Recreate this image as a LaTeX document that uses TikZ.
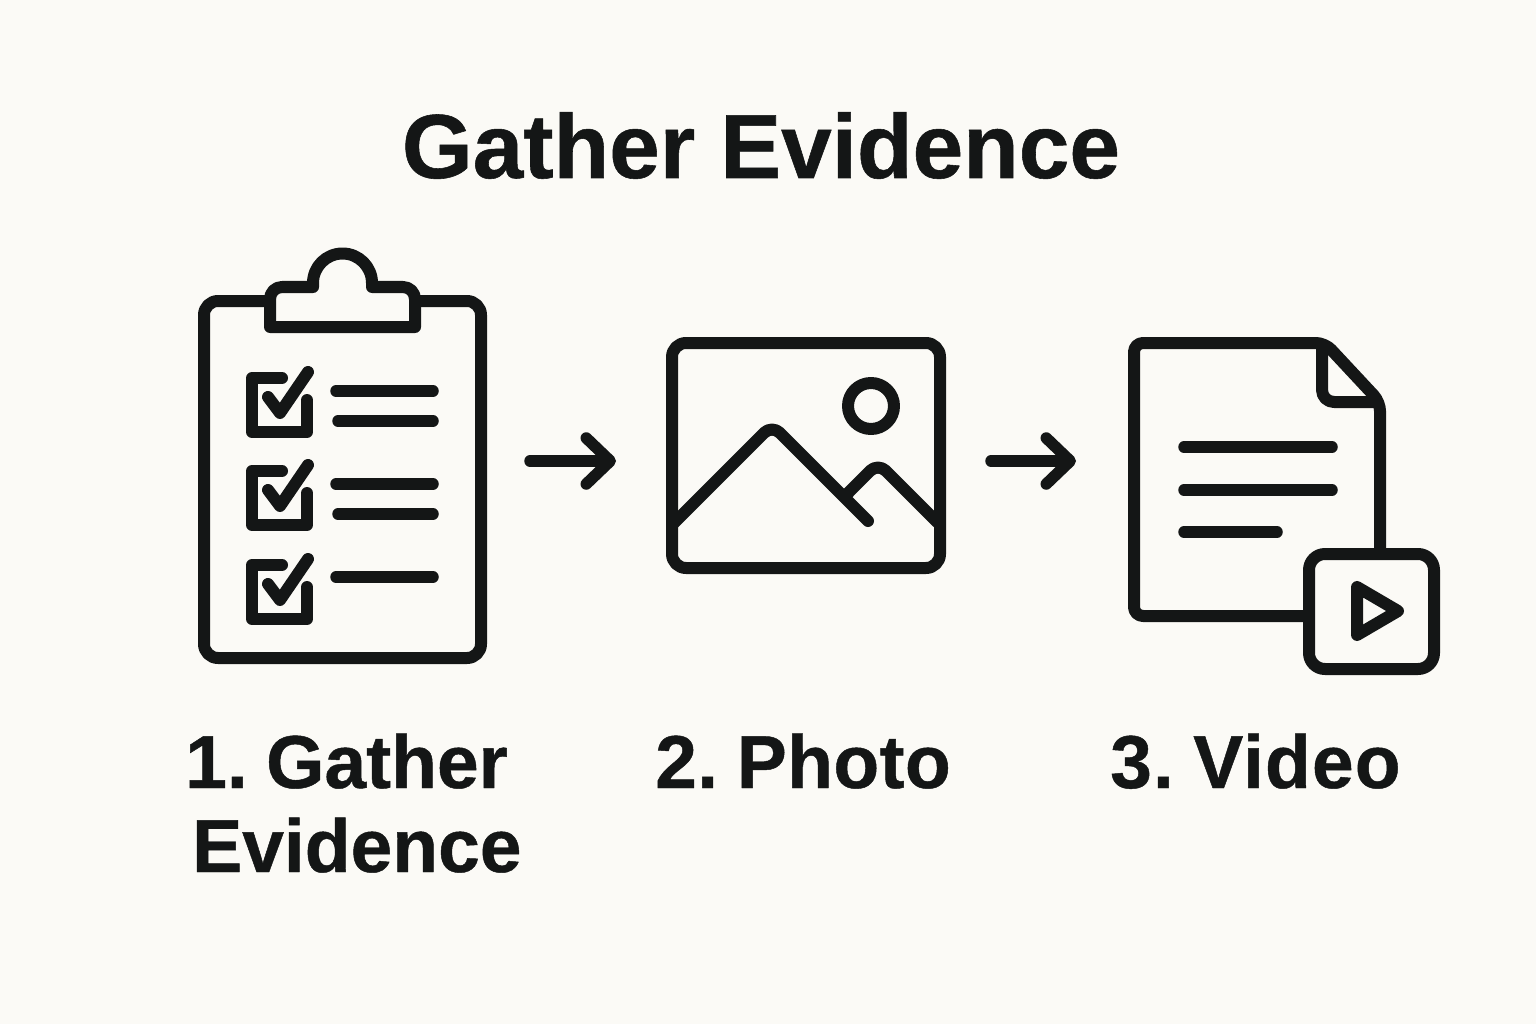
\documentclass[tikz,border=0pt]{standalone}
\usepackage{fontspec}
\setmainfont{Liberation Sans}[BoldFeatures={FakeBold=0.6}]
\newfontfamily\stepfont{Liberation Sans}[BoldFeatures={FakeBold=0.6},WordSpace=0.55]
\usetikzlibrary{arrows.meta,positioning}
\definecolor{paper}{HTML}{FBFAF6}
\definecolor{ink}{HTML}{141616}
\begin{document}
\begin{tikzpicture}[x=1pt,y=-1pt,
        iconline/.style={draw=ink, line width=12pt, line cap=round, line join=round},
        iconbox/.style={iconline, rectangle, fill=paper, inner sep=0pt, rounded corners=14pt},
        rowline/.style={draw=ink, line width=11.5pt, line cap=round},
        flowarrow/.style={draw=ink, line width=11.5pt, line cap=round, -{Straight Barb[round,length=24pt,width=46pt]}},
        titletext/.style={font=\fontsize{91}{91}\bfseries, text=ink, inner sep=0pt, anchor=base},
        steptext/.style={font=\fontsize{75}{75}\stepfont\bfseries, text=ink, inner sep=0pt, anchor=base west}]
            \path[fill=paper] (0,0) rectangle (1536,1024);
            \node[titletext] (title) at (761,178) {Gather Evidence};

            \node[iconbox, minimum width=277pt, minimum height=357pt] (board) at (342.5,479.5) {};
            \draw[iconline, fill=paper] (270,327) [rounded corners=12pt] -- (270,287) [sharp corners] -- (313,287) -- (313,283)
                arc[start angle=180, end angle=360, radius=29.5] -- (372,287) [rounded corners=12pt] -- (415,287) [sharp corners] -- (415,327) -- cycle;
            \foreach \dy in {0,93,187} {
                \draw[iconline] (282,378+\dy) -- (252,378+\dy) -- (252,432+\dy) -- (307,432+\dy) -- (307,400+\dy);
                \draw[iconline] (268,397+\dy) -- (280,413+\dy) -- (308,372+\dy);
            }
            \draw[rowline] (336,391) -- (433,391);
            \draw[rowline] (338,421) -- (433,421);
            \draw[rowline] (336,484) -- (433,484);
            \draw[rowline] (338,514) -- (433,514);
            \draw[rowline] (336,577) -- (433,577);

            \node[iconbox, minimum width=268pt, minimum height=225pt] (photo) at (806,455.5) {};
            \node[iconline, circle, minimum size=46pt, inner sep=0pt] (sun) at (871,406) {};
            \draw[iconline, rounded corners=11pt] (672,525) -- (772,425) -- (868,521);
            \draw[iconline, rounded corners=11pt] (848,493) -- (878,463) -- (937,522);

            \draw[iconline, rounded corners=9pt] (1380,554) -- (1380,402) -- (1325,343) -- (1134,343) -- (1134,616) -- (1309,616);
            \draw[iconline, rounded corners=12pt] (1322,346) -- (1322,402) -- (1377,402);
            \draw[rowline] (1184,447) -- (1332,447);
            \draw[rowline] (1184,490) -- (1332,490);
            \draw[rowline] (1184,532) -- (1277,532);
            \node[iconbox, rounded corners=16pt, minimum width=125pt, minimum height=115pt] (badge) at (1371.5,611.5) {};
            \draw[iconline] (1357,587) -- (1398,611) -- (1357,635) -- cycle;

            \coordinate (starta) at (530,461);
            \coordinate (enda) at (616,461);
            \coordinate (startb) at (991,461);
            \coordinate (endb) at (1076,461);
            \draw[flowarrow] (starta) -- (enda);
            \draw[flowarrow] (startb) -- (endb);

            \node[steptext] (gather) at (185,788) {1. Gather};
            \node[steptext] (evidence) at (192,872) {Evidence};
            \node[steptext] (shot) at (655,788) {\addfontfeature{LetterSpace=0.5}2. Photo};
            \node[steptext] (clip) at (1110,788) {\addfontfeature{LetterSpace=1.5}3. Video};
        \end{tikzpicture}
\end{document}
